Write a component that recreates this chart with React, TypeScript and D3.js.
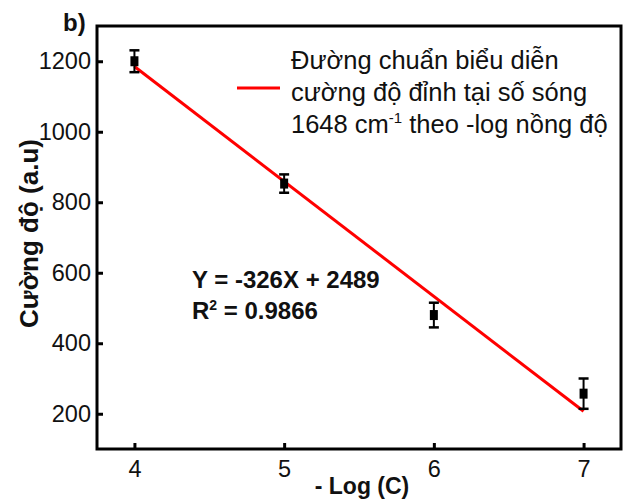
import React, { useEffect, useRef } from 'react';
import * as d3 from 'd3';

// -Log(C) values and measured peak intensities
const logC = [4, 5, 6, 7];
const intensity = [1200, 853, 480, 257];
const errors = [31, 26, 35, 43];

// fitted line Y = -326X + 2489
const slope = -326;
const intercept = 2489;

const xTicks = [4, 5, 6, 7];
const yTicks = [200, 400, 600, 800, 1000, 1200];

const legendLines = ['Đường chuẩn biểu diễn', 'cường độ đỉnh tại số sóng'];

const FONT = '"Liberation Sans", Arial, sans-serif';

const App = () => {
  const ref = useRef<SVGSVGElement | null>(null);

  useEffect(() => {
    const svg = d3.select(ref.current);
    svg.selectAll('*').remove();

    const W = 623;
    const H = 501;
    const margin = { top: 26, right: 2, bottom: 52, left: 97 };
    const width = W - margin.left - margin.right;
    const height = H - margin.top - margin.bottom;

    svg.attr('width', W).attr('height', H);
    svg.append('rect').attr('width', W).attr('height', H).attr('fill', '#fff');

    const g = svg.append('g').attr('transform', `translate(${margin.left},${margin.top})`);

    const x = d3.scaleLinear().domain([3.75, 7.25]).range([0, width]);
    const y = d3.scaleLinear().domain([100, 1300]).range([height, 0]);

    // Axes with inward ticks
    const xAxis = g.append('g')
      .attr('transform', `translate(0,${height})`)
      .call(d3.axisBottom(x).tickValues(xTicks).tickSize(-6).tickPadding(11).tickFormat(d3.format('d')));
    const yAxis = g.append('g')
      .call(d3.axisLeft(y).tickValues(yTicks).tickSize(-6).tickPadding(6).tickFormat(d3.format('d')));

    [xAxis, yAxis].forEach((a) => {
      a.select('.domain').remove();
      a.selectAll('line').attr('stroke', '#000').attr('stroke-width', 3);
      a.selectAll('text')
        .attr('fill', '#111')
        .style('font-family', FONT)
        .style('font-size', '23.5px');
    });

    // Frame
    g.append('rect')
      .attr('width', width)
      .attr('height', height)
      .attr('fill', 'none')
      .attr('stroke', '#000')
      .attr('stroke-width', 3);

    // Fit line
    const fit = d3.line<number>()
      .x((d) => x(d))
      .y((d) => y(slope * d + intercept));
    g.append('path')
      .datum([logC[0], logC[logC.length - 1]])
      .attr('fill', 'none')
      .attr('stroke', '#ff0000')
      .attr('stroke-width', 3)
      .attr('d', fit);

    // Error bars and markers
    const pts = g.append('g');
    logC.forEach((c, i) => {
      const cx = x(c);
      const top = y(intensity[i] + errors[i]);
      const bot = y(intensity[i] - errors[i]);
      pts.append('line').attr('x1', cx).attr('x2', cx).attr('y1', top).attr('y2', bot)
        .attr('stroke', '#000').attr('stroke-width', 2);
      [top, bot].forEach((yy) => {
        pts.append('line').attr('x1', cx - 5).attr('x2', cx + 5).attr('y1', yy).attr('y2', yy)
          .attr('stroke', '#000').attr('stroke-width', 2.5);
      });
      pts.append('rect')
        .attr('x', cx - 4).attr('y', y(intensity[i]) - 5)
        .attr('width', 8).attr('height', 10)
        .attr('fill', '#000');
    });

    // Legend
    const leg = svg.append('g');
    leg.append('line')
      .attr('x1', 237).attr('x2', 280).attr('y1', 88).attr('y2', 88)
      .attr('stroke', '#ff0000').attr('stroke-width', 3);
    const lt = leg.append('text')
      .attr('x', 291)
      .attr('fill', '#111')
      .style('font-family', FONT)
      .style('font-size', '25.5px');
    legendLines.forEach((s, i) => {
      lt.append('tspan').attr('x', 291).attr('y', 69 + i * 32).text(s);
    });
    const l3 = leg.append('text')
      .attr('x', 291).attr('y', 133)
      .attr('fill', '#111')
      .style('font-family', FONT)
      .style('font-size', '25.5px');
    l3.append('tspan').text('1648 cm');
    l3.append('tspan').attr('dy', -10).style('font-size', '15px').text('-1');
    l3.append('tspan').attr('dy', 10).text(' theo -log nồng độ');

    // Equation
    const eq = svg.append('g')
      .style('font-family', FONT)
      .style('font-weight', 'bold')
      .style('font-size', '24px')
      .attr('fill', '#111');
    eq.append('text').attr('x', 192).attr('y', 288).text(`Y = ${slope}X + ${intercept}`);
    const r2 = eq.append('text').attr('x', 192).attr('y', 319);
    r2.append('tspan').text('R');
    r2.append('tspan').attr('dy', -9).style('font-size', '14px').text('2');
    r2.append('tspan').attr('dy', 9).text(' = 0.9866');

    // Axis titles
    svg.append('text')
      .attr('transform', `translate(38,${margin.top + height / 2 - 4}) rotate(-90)`)
      .attr('text-anchor', 'middle')
      .attr('fill', '#111')
      .style('font-family', FONT)
      .style('font-weight', 'bold')
      .style('font-size', '26px')
      .text('Cường độ (a.u)');
    svg.append('text')
      .attr('x', margin.left + width / 2 + 3)
      .attr('y', 494)
      .attr('text-anchor', 'middle')
      .attr('fill', '#111')
      .style('font-family', FONT)
      .style('font-weight', 'bold')
      .style('font-size', '23px')
      .text('- Log (C)');

    // Panel label
    svg.append('text')
      .attr('x', 63).attr('y', 31)
      .attr('fill', '#111')
      .style('font-family', FONT)
      .style('font-weight', 'bold')
      .style('font-size', '24px')
      .text('b)');
  }, []);

  return <svg ref={ref} style={{ position: 'absolute', left: 0, top: 0 }}></svg>;
};

export default App;
